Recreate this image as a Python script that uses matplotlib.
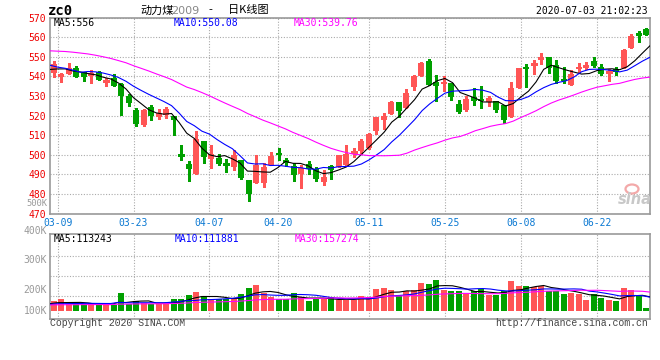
import numpy as np
import pandas as pd
import matplotlib
matplotlib.use('Agg')
import matplotlib.pyplot as plt
from matplotlib.patches import Rectangle, Ellipse

# ---------------- data ----------------
dates = ['03-06', '03-09', '03-10', '03-11', '03-12', '03-13', '03-16', '03-17', '03-18', '03-19',
         '03-20', '03-23', '03-24', '03-25', '03-26', '03-27', '03-30', '03-31',
         '04-01', '04-02', '04-03', '04-07', '04-08', '04-09', '04-10', '04-13', '04-14', '04-15',
         '04-16', '04-17', '04-20', '04-21', '04-22', '04-23', '04-24', '04-27', '04-28', '04-29', '04-30',
         '05-06', '05-07', '05-08', '05-11', '05-12', '05-13', '05-14', '05-15', '05-18', '05-19',
         '05-20', '05-21', '05-22', '05-25', '05-26', '05-27', '05-28', '05-29',
         '06-01', '06-02', '06-03', '06-04', '06-05', '06-08', '06-09', '06-10', '06-11', '06-12',
         '06-15', '06-16', '06-17', '06-18', '06-19', '06-22', '06-23', '06-24', '06-29', '06-30',
         '07-01', '07-02', '07-03']

opens = [541.5, 539.8, 541.0, 544.1, 542.0, 540.3, 542.2, 537.7, 539.0, 536.3,
         530.0, 522.9, 515.4, 524.2, 519.3, 520.5, 519.8, 500.2, 495.4, 490.4,
         507.2, 497.6, 498.2, 495.4, 493.5, 497.1, 487.1, 485.8, 485.8, 494.9,
         500.8, 497.1, 494.2, 490.0, 495.5, 492.8, 486.1, 494.0, 493.5, 494.9,
         501.1, 501.9, 503.5, 512.0, 517.5, 521.0, 526.8, 523.6, 534.3, 539.9,
         548.0, 537.0, 536.0, 536.5, 525.9, 522.7, 529.5, 528.5, 526.8, 527.3,
         525.3, 519.1, 533.9, 544.5, 546.2, 548.4, 549.6, 545.7, 538.6, 535.8,
         543.7, 544.3, 547.7, 544.5, 542.1, 543.5, 544.0, 554.6, 562.0, 563.9]
highs = [547.7, 541.5, 546.8, 545.3, 542.0, 543.0, 542.8, 539.3, 541.0, 536.6,
         531.0, 524.0, 523.4, 525.3, 523.2, 524.1, 519.8, 504.7, 497.0, 512.2,
         507.2, 504.7, 500.6, 498.0, 502.6, 497.1, 487.1, 500.1, 495.9, 501.3,
         503.5, 498.2, 495.9, 495.0, 496.7, 493.7, 492.0, 494.5, 500.1, 505.2,
         503.5, 507.9, 511.3, 519.0, 521.4, 527.6, 526.8, 533.5, 540.9, 547.5,
         548.8, 540.9, 539.9, 536.5, 528.1, 529.8, 534.0, 535.2, 529.8, 527.3,
         525.3, 536.9, 544.0, 546.2, 548.2, 552.1, 549.6, 548.2, 544.8, 543.2,
         546.9, 547.4, 549.6, 546.5, 543.5, 544.8, 553.8, 561.7, 562.9, 564.5]
lows = [539.8, 537.2, 541.0, 539.8, 537.7, 536.8, 538.3, 535.3, 535.3, 520.3,
        525.1, 514.4, 514.7, 517.5, 518.1, 518.6, 509.8, 497.1, 486.4, 490.4,
        496.0, 493.0, 494.7, 491.2, 492.0, 487.5, 476.5, 485.8, 483.7, 494.9,
        497.1, 494.2, 486.4, 483.2, 490.0, 486.4, 484.4, 487.5, 493.5, 494.9,
        498.9, 500.3, 502.9, 510.4, 513.0, 521.0, 519.4, 523.6, 532.8, 539.9,
        535.7, 527.6, 532.3, 528.1, 521.4, 522.2, 525.6, 523.9, 525.0, 521.7,
        516.3, 519.1, 533.9, 534.7, 541.0, 546.4, 541.5, 536.4, 536.4, 535.8,
        542.3, 543.6, 544.9, 540.6, 537.6, 540.9, 544.0, 554.6, 557.5, 561.2]
closes = [546.1, 541.3, 544.1, 539.8, 539.8, 541.9, 538.3, 537.9, 535.3, 529.7,
          526.6, 515.8, 522.9, 519.8, 521.5, 523.4, 517.5, 500.0, 492.5, 508.0,
          498.7, 500.6, 495.2, 495.2, 499.8, 488.1, 479.9, 494.5, 493.7, 499.1,
          499.8, 495.9, 489.5, 493.4, 492.8, 487.5, 488.6, 492.0, 500.1, 500.4,
          501.3, 506.9, 510.4, 519.0, 520.0, 526.8, 522.2, 531.5, 539.9, 547.0,
          535.7, 534.8, 537.0, 529.3, 521.9, 528.5, 527.6, 527.3, 529.0, 522.7,
          517.7, 533.9, 544.0, 543.7, 546.4, 549.7, 544.3, 537.8, 537.6, 541.3,
          544.7, 545.7, 545.2, 541.3, 542.3, 542.3, 553.3, 560.5, 560.7, 561.2]
volumes = [84500, 95900, 57400, 57400, 57400, 63100, 46700, 46700, 51700, 145100,
           57400, 84500, 68100, 57400, 57400, 57400, 95900, 95900, 128700, 153300,
           120500, 95900, 95900, 95900, 100900, 136900, 186100, 210700, 150100, 117300,
           95900, 95900, 145100, 114800, 79500, 95900, 95900, 114800, 87700, 87700,
           87700, 120500, 112300, 177900, 188600, 169700, 128700, 161500, 169700, 227100,
           218900, 251700, 174700, 161500, 161500, 136900, 161500, 177900, 128700, 133700,
           161500, 243500, 202500, 202500, 194300, 202500, 161500, 161500, 136900, 145100,
           136900, 87700, 136900, 104100, 87700, 79500, 186100, 169700, 120500, 24600]

# sessions before 03-06 (estimated; only feed the moving averages)
prior_closes = [547.0, 549.0, 550.2, 553.0, 555.7, 558.0, 561.4, 561.0, 562.0, 560.3,
                561.0, 563.0, 560.5, 566.0, 565.0, 562.0, 558.0, 550.0, 546.0, 544.6,
                551.0, 550.0, 549.0, 551.0, 538.0, 540.0, 544.0, 545.0, 542.4]
prior_volumes = [46300, 46300, 46300, 46300, 46300, 46300, 46300, 46300, 46300, 46300,
                 46300, 46300, 46300, 46300, 46300, 46300, 46300, 46300, 46300, 46300,
                 50000, 50000, 50000, 50000, 50000, 53700, 53700, 53700, 53700]

tick_dates = ['03-09', '03-23', '04-07', '04-20', '05-11', '05-25', '06-08', '06-22']
price_ticks = [470, 480, 490, 500, 510, 520, 530, 540, 550, 560, 570]
vol_labels = ['500K', '400K', '300K', '200K', '100K']
price_legend = ['MA5:556', 'MA10:550.08', 'MA30:539.76']
vol_legend = ['MA5:113243', 'MA10:111881', 'MA30:157274']
title_symbol = 'zc0'
title_parts = ['动力煤', '2009', '-', '日K线图']
timestamp = '2020-07-03 21:02:23'
footer_left = 'Copyright 2020 SINA.COM'
footer_right = 'http://finance.sina.com.cn'

# ---------------- derived ----------------
n = len(closes)
idx = np.arange(n)
npri = len(prior_closes)
c_all = pd.Series(prior_closes + closes)
v_all = pd.Series(prior_volumes + volumes)
ma_p = [c_all.rolling(w).mean().values[npri:] for w in (5, 10, 30)]
ma_v = [v_all.rolling(w).mean().values[npri:] for w in (5, 10, 30)]
xm = idx * n / (n - 1) - 0.5          # lines & grid use (n-1) spacing across the panel
tick_idx = [dates.index(d) for d in tick_dates]
xg = [i * n / (n - 1) - 0.5 for i in tick_idx]

RED = '#ff5555'
GREEN = '#00a000'
MA_COLORS = ['#000000', '#0000ff', '#ff00ff']
GRID = '#aaaaaa'
BORDER = '#999999'
MONO = 'DejaVu Sans Mono'
CJK = ['Noto Sans CJK SC', 'DejaVu Sans']

W, H = 660, 360
fig = plt.figure(figsize=(6.6, 3.6), dpi=100)
fig.patch.set_facecolor('white')


def fx(x):
    return x / W


def fy(y):
    return 1 - y / H


LEFT, RIGHT = 50, 650
P_TOP, P_BOT = 17.5, 213.5
V_TOP, V_BOT = 234, 318.5
ZERO_Y = 311.0
VPX = 8200.0

ax1 = fig.add_axes([fx(LEFT), fy(P_BOT), (RIGHT - LEFT) / W, (P_BOT - P_TOP) / H])
ax2 = fig.add_axes([fx(LEFT), fy(V_BOT), (RIGHT - LEFT) / W, (V_BOT - V_TOP) / H])

for ax in (ax1, ax2):
    ax.set_xlim(-0.5, n - 0.5)
    for s in ax.spines.values():
        s.set_color(BORDER)
        s.set_linewidth(1.2)
    ax.set_facecolor('white')

# ---- price panel ----
ax1.set_ylim(price_ticks[0], price_ticks[-1])
ax1.set_yticks(price_ticks)
ax1.set_yticklabels([str(t) for t in price_ticks], color='#ee0000', family=MONO, fontsize=7)
ax1.set_xticks(xg)
ax1.set_xticklabels(tick_dates, color='#0a78d2', family=MONO, fontsize=7)
ax1.tick_params(axis='both', length=0)
ax1.tick_params(axis='y', pad=3)
ax1.tick_params(axis='x', pad=3.5)
ax1.grid(True, color=GRID, linestyle=(0, (1, 1.5)), linewidth=0.8)
ax1.set_axisbelow(True)

for i in idx:
    o, h, l, c = opens[i], highs[i], lows[i], closes[i]
    col = RED if c >= o else GREEN
    ax1.vlines(i, l, h, color=col, linewidth=0.8, antialiased=False, zorder=3)
    bot, top = min(o, c), max(o, c)
    if top - bot < 0.4:
        ax1.hlines((o + c) / 2, i - 0.4, i + 0.4, color=col, linewidth=1.0, antialiased=False, zorder=3)
    else:
        ax1.add_patch(Rectangle((i - 0.4, bot), 0.8, top - bot, facecolor=col, edgecolor='none',
                                antialiased=False, zorder=3))

for m, col in zip(ma_p, MA_COLORS):
    ax1.plot(xm, m, color=col, linewidth=0.8, zorder=4)

# ---- volume panel ----
ax2.set_ylim(-(V_BOT - ZERO_Y) * VPX, (ZERO_Y - V_TOP) * VPX)
ax2.set_xticks(xg)
ax2.set_xticklabels([])
grid_px = [255.7, 275.7, 295.7]
ax2.set_yticks([(ZERO_Y - g) * VPX for g in grid_px])
ax2.set_yticklabels([])
ax2.tick_params(axis='both', length=0)
ax2.grid(True, color=GRID, linestyle=(0, (1, 1.5)), linewidth=0.8)
ax2.set_axisbelow(True)
vcols = [RED if c >= o else GREEN for o, c in zip(opens, closes)]
ax2.bar(idx, volumes, width=0.8, color=vcols, antialiased=False, zorder=3)
for m, col in zip(ma_v, MA_COLORS):
    ax2.plot(xm, m, color=col, linewidth=0.8, zorder=4)

# volume scale labels (as drawn on the source chart)
for lab, ypx, fs in zip(vol_labels, [203.6, 230.7, 260, 290, 311], [6.3, 7, 7, 7, 7]):
    fig.text(fx(47), fy(ypx), lab, ha='right', va='center', color='#999999', family=MONO, fontsize=fs)

# ---- legends ----
for txt, xp, col in zip(price_legend, [54, 174, 294], MA_COLORS):
    fig.text(fx(xp), fy(23.5), txt, ha='left', va='center', color=col, family=MONO, fontsize=7)
for txt, xp, col in zip(vol_legend, [54, 175, 295], MA_COLORS):
    fig.text(fx(xp), fy(238.5), txt, ha='left', va='center', color=col, family=MONO, fontsize=7)

# ---- titles ----
fig.text(fx(48), fy(11), title_symbol, ha='left', va='center', color='black', family=MONO,
         fontsize=10, fontweight='bold')
fig.text(fx(140), fy(10.5), title_parts[0], ha='left', va='center', color='black', family=CJK, fontsize=8)
fig.text(fx(171), fy(10.5), title_parts[1], ha='left', va='center', color='#888888', family='DejaVu Sans',
         fontsize=8)
fig.text(fx(210), fy(10.5), title_parts[2], ha='center', va='center', color='black', family=CJK, fontsize=8)
fig.text(fx(228), fy(10.5), title_parts[3], ha='left', va='center', color='black', family=CJK, fontsize=8)
fig.text(fx(648), fy(11.5), timestamp, ha='right', va='center', color='black', family=MONO, fontsize=7)

# ---- footer ----
fig.text(fx(50), fy(323.5), footer_left, ha='left', va='center', color='#444444',
         family='Liberation Mono', fontsize=7.1)
fig.text(fx(648), fy(323.5), footer_right, ha='right', va='center', color='#444444',
         family='Liberation Mono', fontsize=7.1)

# ---- sina watermark ----
fig.add_artist(Ellipse((fx(632), fy(189)), width=13 / W, height=9 / H, transform=fig.transFigure,
                       fill=False, edgecolor='#f3a9a9', linewidth=1.6))
fig.text(fx(635), fy(200), 'sina', ha='center', va='center', color='#c8c8c8', fontsize=10.5,
         fontweight='bold', style='italic', family='DejaVu Sans')

fig.savefig('out.png', dpi=100, facecolor='white')
